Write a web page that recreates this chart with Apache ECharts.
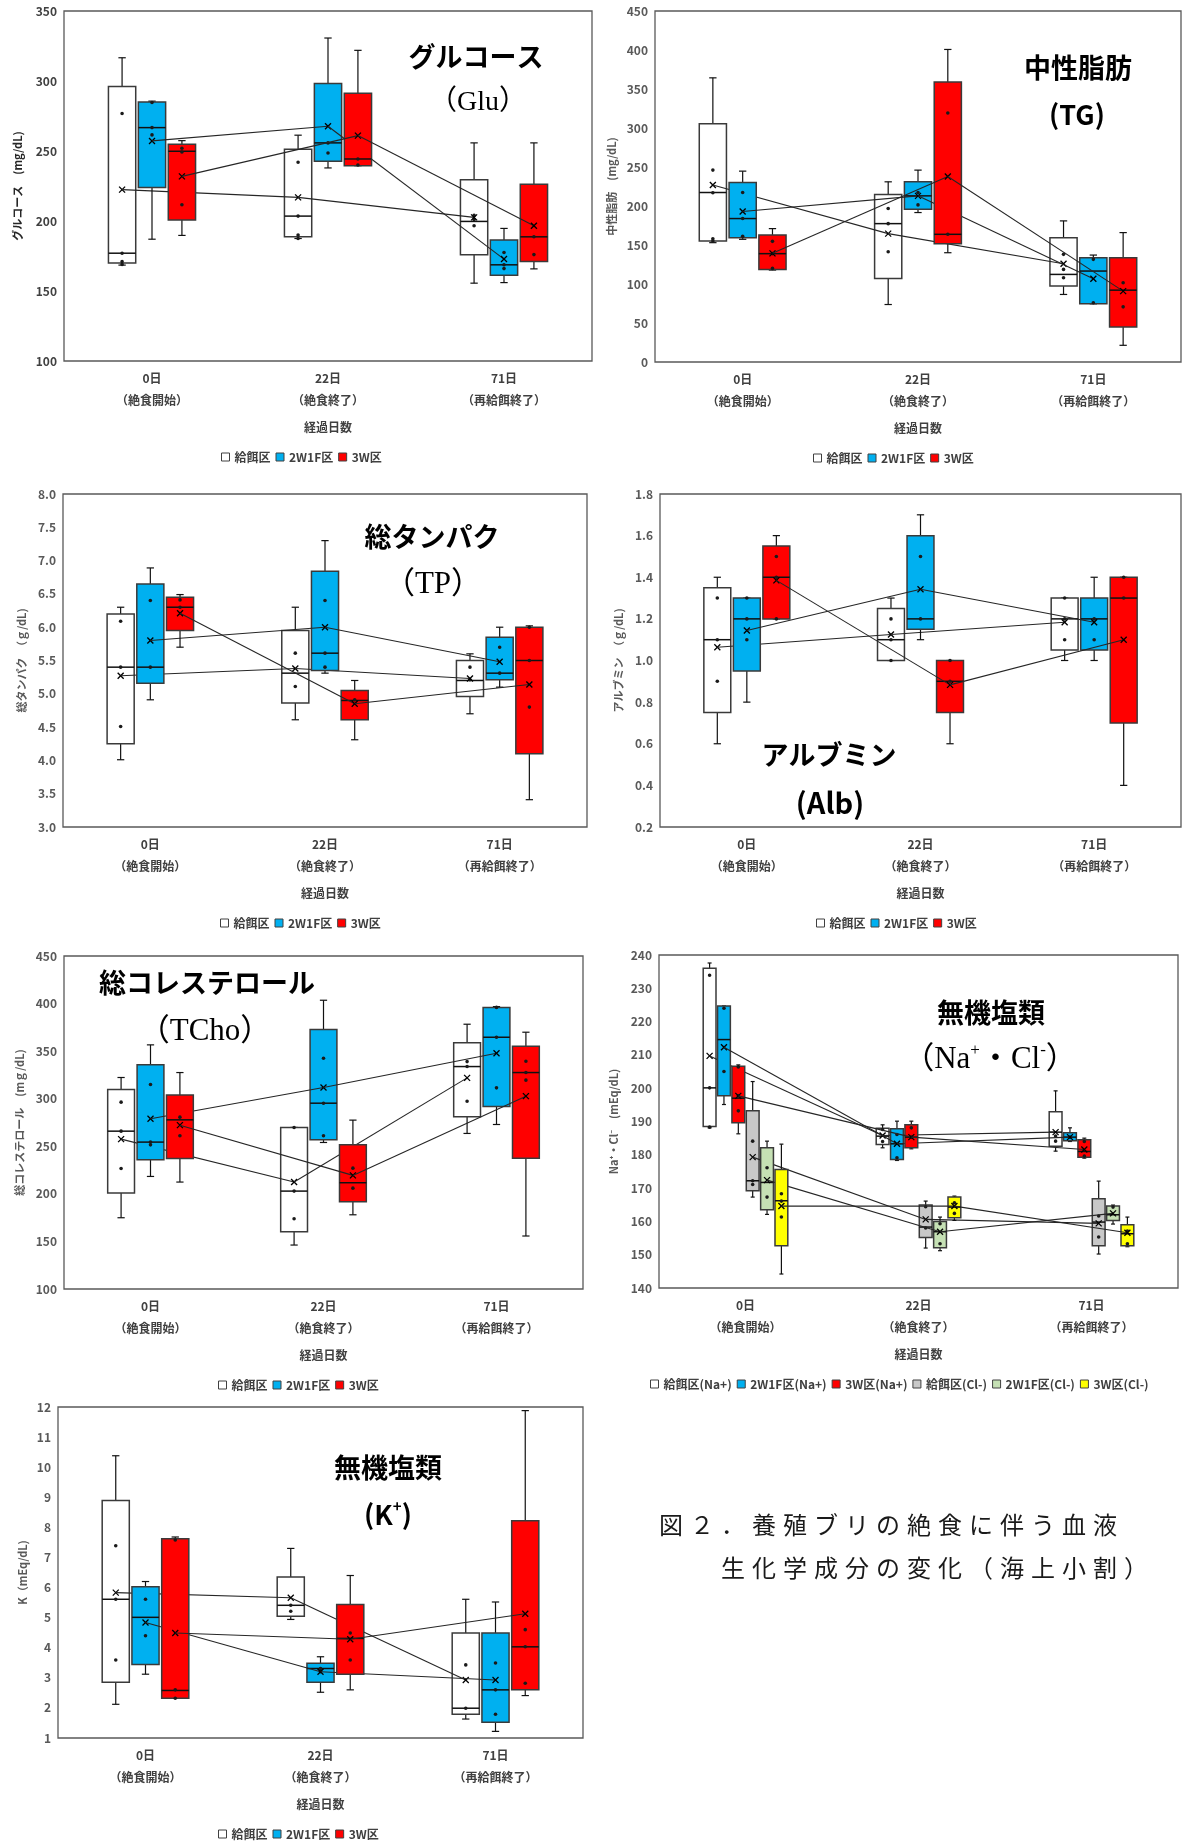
<!DOCTYPE html>
<html><head><meta charset="utf-8">
<script src="https://cdn.jsdelivr.net/npm/echarts@6/dist/echarts.min.js"></script>
<style>html,body{margin:0;padding:0;background:#fff}#c{width:1182px;height:1843px}</style>
</head><body><div id="c"></div>
<script>
// ---------- DATA ----------
const days = ['0日', '22日', '71日'];
const daySub = ['（絶食開始）', '（絶食終了）', '（再給餌終了）'];
const groups3 = ['給餌区', '2W1F区', '3W区'];
const groupsNaCl = ['給餌区(Na+)', '2W1F区(Na+)', '3W区(Na+)', '給餌区(Cl-)', '2W1F区(Cl-)', '3W区(Cl-)'];

// box = [min, Q1, median, Q3, max] per day, per group (給餌区, 2W1F区, 3W区)
const gluBox = [
  [[168.5,170,177,296,316.6],[187.5,188.7,203.5,251.2,261.3],[155.6,175.9,199.7,229.5,255.8]],
  [[187,224,266.7,285,285.6],[237.9,242.7,255.8,298.2,330.7],[156,161.3,168.7,186.4,194.7]],
  [[189.7,200.7,249.8,254.8,257.4],[239.5,239.5,244.3,291.3,321.9],[165.8,171,188.7,226.2,255.8]]
];
const gluMean = [[222.4,216.9,202.6],[257.2,267.7,172.8],[231.9,261,196.6]];
const gluDots = [
  [[276.8,177,171,169],[242,203.5,190,187.5],[204,201,196.6]],
  [[284.6,266.7,261.5],[255.8,248.6],[177.5,168.7,166]],
  [[252,249.3,211.6],[244.3,240],[188.7,176]]
];
const gluAxis = [100, 350, 50];

const tgBox = [
  [[153,155.1,217.3,305.6,364.3],[73.7,107.1,177.4,214.7,231],[86.6,97.3,112.3,159.4,180.9]],
  [[157.3,159.4,183.9,230.1,244.7],[191.6,195.9,213,231,246],[74.6,74.6,116.6,133.7,137.1]],
  [[117.9,118.7,138.9,162.9,171],[140.1,151.7,163.7,359.1,400.7],[21.4,45,92.1,133.7,165.9]]
];
const tgMean = [[227,164.6,126],[192.9,213,106.7],[139.3,237.9,90.9]];
const tgDots = [
  [[246,217,158,155],[196.7,177.4,141.4],[138,118.7,108]],
  [[217.3,183.9,161.1],[217.3,201.4],[131.6,75.9]],
  [[154.7,139,120],[319.3,163.7],[101.6,70.7]]
];
const tgAxis = [0, 450, 50];

const tpBox = [
  [[4.01,4.25,5.40,6.20,6.30],[4.61,4.86,5.31,5.95,6.30],[4.70,4.96,5.20,5.50,5.60]],
  [[4.91,5.16,5.40,6.65,6.89],[5.31,5.35,5.61,6.84,7.30],[5.10,5.21,5.31,5.85,6.00]],
  [[5.70,5.95,6.30,6.45,6.49],[4.31,4.61,4.90,5.05,5.20],[3.41,4.10,5.50,6.00,6.02]]
];
const tpMean = [[5.27,5.38,5.23],[5.80,6.00,5.48],[6.21,4.85,5.14]];
const tpDots = [
  [[6.09,5.40,4.51],[5.61,5.11],[5.40,5.21]],
  [[6.40,5.40],[6.40,5.61,5.40],[5.70,5.31]],
  [[6.41,6.30],[4.91],[6.00,5.50,4.80]]
];
const tpAxis = [3, 8, 0.5];

const albBox = [
  [[0.60,0.75,1.10,1.35,1.40],[1.00,1.00,1.10,1.25,1.30],[1.00,1.05,1.20,1.30,1.30]],
  [[0.80,0.95,1.20,1.30,1.30],[1.10,1.15,1.20,1.60,1.70],[1.00,1.05,1.20,1.30,1.40]],
  [[1.20,1.20,1.40,1.55,1.60],[0.60,0.75,0.90,1.00,1.00],[0.40,0.70,1.30,1.40,1.40]]
];
const albMean = [[1.064,1.125,1.184],[1.144,1.342,1.184],[1.385,0.883,1.10]];
const albDots = [
  [[1.30,1.10,0.90],[1.20,1.10,1.00],[1.30,1.20,1.10]],
  [[1.30,1.20,1.10],[1.50,1.20],[1.20,1.10]],
  [[1.50,1.40,1.20],[1.00,0.90],[1.40,1.30]]
];
const albAxis = [0.2, 1.8, 0.2];

const tchoBox = [
  [[174.9,200.8,265.9,309.7,322.3],[146.2,160.2,202.9,269.8,269.8],[263.5,281,333.8,358.7,378.3]],
  [[218.3,235.8,254.4,335.6,356.6],[254,256.8,295.3,372.7,403.5],[272.9,291.8,364.6,396,396.8]],
  [[212.4,237.2,277.8,304,327.5],[178,191.7,211.7,251.6,277.5],[155.7,237.5,327.5,355.2,369.9]]
];
const tchoMean = [[257.5,212.4,321.9],[278.9,311.8,347.8],[272.2,219.4,302.7]];
const tchoDots = [
  [[296.4,265.9,226.7],[269.8,202.9,173.9],[339,333.8,297.4]],
  [[314.9,254.4,251.5],[342.6,295.3,261],[396,364.6,311.4]],
  [[280.6,261],[227,206],[339.4,327.5,319.5]]
];
const tchoAxis = [100, 450, 50];

const naclBox = [
  [[188.1,188.5,200.1,236,237.6],[182.1,183.1,185.6,188,189],[181.1,182.6,186.8,192.9,199.2]],
  [[195.1,197.7,214.6,224.7,224.7],[178.3,178.6,183.3,187.8,190.1],[184,184.2,185.3,186.6,188.1]],
  [[186.3,189.6,197,206.6,207],[181.8,182.1,185.3,189,190.1],[179,179.3,181,184.5,185]],
  [[167.3,169.2,172.2,193.2,202],[152,155.2,158.3,164.9,166.1],[150.2,152.7,159.8,166.8,172.1]],
  [[162.1,163.5,171.7,182.1,184.1],[151.2,152.1,156.9,160,161.3],[159.2,160.3,162,164.6,164.9]],
  [[144.2,152.7,166.2,175.6,183.2],[160.3,161.1,164.3,167.3,167.6],[152.4,152.7,156.3,159,161.3]]
];
const naclMean = [[209.7,185.8,186.8],[212.3,183.3,185.3],[197.7,185.3,181.6],[179.3,160.6,159.4],[172.4,156.9,162.4],[164.6,164.6,156.6]];
const naclDots = [
  [[233.9,200.1,188.3],[187.6,184],[185.6,184.1]],
  [[224,205],[186.1,179.1],[185.3]],
  [[206.4,197.7,193.2],[188.1,185.3],[184,179.6]],
  [[184.1,172.2,171.1],[164.4,158],[161.6,155.3]],
  [[176.1,167.3],[159.3,153.3],[164.3]],
  [[168.3,166.1,161.3],[165.6,162.4],[157.1,153.3]]
];
const naclAxis = [140, 240, 10];

const kBox = [
  [[2.12,2.85,5.61,8.89,10.38],[4.94,5.05,5.41,6.35,7.30],[1.63,1.79,1.99,4.49,5.61]],
  [[3.12,3.44,5.01,6.03,6.20],[2.52,2.85,3.31,3.48,3.70],[1.22,1.52,2.60,4.49,5.52]],
  [[2.32,2.32,2.58,7.62,7.68],[2.60,3.12,4.31,5.44,6.40],[2.41,2.60,4.03,8.22,11.88]]
];
const kMean = [[5.83,5.66,2.93],[4.84,3.20,2.93],[4.49,4.28,5.13]];
const kDots = [
  [[7.39,5.61,3.59],[5.41,5.21],[3.43,1.99]],
  [[5.61,4.40],[3.31,3.20],[3.49,2.60,1.79]],
  [[7.58,2.60,2.32],[4.49,3.59],[4.60,4.03,2.82]]
];
const kAxis = [1, 12, 1];

const captionLines = ['図２．養殖ブリの絶食に伴う血液', '　　生化学成分の変化（海上小割）'];

// ---------- STYLE / LAYOUT ----------
const FONT = "'Noto Sans CJK JP', 'Noto Sans', sans-serif";
const SERIF = "'Liberation Serif', 'Noto Sans CJK JP', serif";
const colors3 = ['#FFFFFF', '#00B0F0', '#FF0000'];
const colorsNaCl = ['#FFFFFF', '#00B0F0', '#FF0000', '#C8C8C8', '#C5E0B4', '#FFFF00'];

const panels = [
  {box: gluBox, mean: gluMean, dots: gluDots, axis: gluAxis, dec: 0, names: groups3, colors: colors3,
   grid: {left: 64, top: 11, width: 528, height: 350}, yName: 'グルコース　(mg/dL)', yNameGap: 41, yNameColor: '#262626',
   labelColor: '#404040', legendLeft: 221, step: 0.17, wf: 0.155},
  {box: tgBox, mean: tgMean, dots: tgDots, axis: tgAxis, dec: 0, names: groups3, colors: colors3,
   grid: {left: 655, top: 11, width: 526, height: 351}, yName: '中性脂肪　(mg/dL)', yNameGap: 38, yNameColor: '#595959',
   labelColor: '#595959', legendLeft: 813, step: 0.17, wf: 0.155},
  {box: tpBox, mean: tpMean, dots: tpDots, axis: tpAxis, dec: 1, names: groups3, colors: colors3,
   grid: {left: 63, top: 494, width: 524, height: 333}, yName: '総タンパク　（ｇ/dL)', yNameGap: 36, yNameColor: '#595959',
   labelColor: '#595959', legendLeft: 220, step: 0.17, wf: 0.155},
  {box: albBox, mean: albMean, dots: albDots, axis: albAxis, dec: 1, names: groups3, colors: colors3,
   grid: {left: 660, top: 494, width: 521, height: 333}, yName: 'アルブミン　（ｇ/dL)', yNameGap: 36, yNameColor: '#595959',
   labelColor: '#595959', legendLeft: 816, step: 0.17, wf: 0.155},
  {box: tchoBox, mean: tchoMean, dots: tchoDots, axis: tchoAxis, dec: 0, names: groups3, colors: colors3,
   grid: {left: 64, top: 956, width: 519, height: 333}, yName: '総コレステロール　(mｇ/dL)', yNameGap: 39, yNameColor: '#595959',
   labelColor: '#595959', legendLeft: 218, step: 0.17, wf: 0.155},
  {box: naclBox, mean: naclMean, dots: naclDots, axis: naclAxis, dec: 0, names: groupsNaCl, colors: colorsNaCl,
   grid: {left: 659, top: 955, width: 519, height: 333}, yName: 'Na⁺・Cl⁻　(mEq/dL)', yNameGap: 40, yNameColor: '#595959',
   labelColor: '#595959', legendLeft: 650, step: 0.083, wf: 0.074},
  {box: kBox, mean: kMean, dots: kDots, axis: kAxis, dec: 0, names: groups3, colors: colors3,
   grid: {left: 58, top: 1407, width: 525, height: 331}, yName: 'K（mEq/dL)', yNameGap: 30, yNameColor: '#595959',
   labelColor: '#595959', legendLeft: 218, step: 0.17, wf: 0.155}
];

function boxRender(off, wf, fill) {
  return function (params, api) {
    const cat = api.value(0);
    const band = api.size([1, 0])[0];
    const cx = api.coord([cat, api.value(3)])[0] + off * band;
    const w = wf * band;
    const yMin = api.coord([cat, api.value(1)])[1];
    const yQ1 = api.coord([cat, api.value(2)])[1];
    const yMed = api.coord([cat, api.value(3)])[1];
    const yQ3 = api.coord([cat, api.value(4)])[1];
    const yMax = api.coord([cat, api.value(5)])[1];
    const cap = Math.max(4, w * 0.27);
    const ws = {stroke: '#111', lineWidth: 1.2};
    return {type: 'group', children: [
      {type: 'line', shape: {x1: cx, y1: yMax, x2: cx, y2: yQ3}, style: ws},
      {type: 'line', shape: {x1: cx, y1: yQ1, x2: cx, y2: yMin}, style: ws},
      {type: 'line', shape: {x1: cx - cap / 2, y1: yMax, x2: cx + cap / 2, y2: yMax}, style: ws},
      {type: 'line', shape: {x1: cx - cap / 2, y1: yMin, x2: cx + cap / 2, y2: yMin}, style: ws},
      {type: 'rect', shape: {x: cx - w / 2, y: yQ3, width: w, height: yQ1 - yQ3}, style: {fill: fill, stroke: '#3a3a3a', lineWidth: 1.5}},
      {type: 'line', shape: {x1: cx - w / 2, y1: yMed, x2: cx + w / 2, y2: yMed}, style: {stroke: '#111', lineWidth: 1.5}}
    ]};
  };
}
function dotRender(off) {
  return function (params, api) {
    const band = api.size([1, 0])[0];
    const pt = api.coord([api.value(0), api.value(1)]);
    return {type: 'circle', shape: {cx: pt[0] + off * band, cy: pt[1], r: 1.8}, style: {fill: '#1a1a1a'}};
  };
}
function meanRender(off, arr) {
  return function (params, api) {
    const i = api.value(0);
    const band = api.size([1, 0])[0];
    const pt = api.coord([i, api.value(1)]);
    const x = pt[0] + off * band, y = pt[1], s = 3;
    const st = {stroke: '#000', lineWidth: 1.3};
    const children = [
      {type: 'line', shape: {x1: x - s, y1: y - s, x2: x + s, y2: y + s}, style: st},
      {type: 'line', shape: {x1: x - s, y1: y + s, x2: x + s, y2: y - s}, style: st}
    ];
    if (i < arr.length - 1) {
      const q = api.coord([i + 1, arr[i + 1]]);
      children.push({type: 'line', shape: {x1: x, y1: y, x2: q[0] + off * band, y2: q[1]}, style: {stroke: '#262626', lineWidth: 1.1}});
    }
    return {type: 'group', children: children};
  };
}

const grids = [], xAxes = [], yAxes = [], legends = [], series = [];
panels.forEach(function (p, pi) {
  grids.push(Object.assign({show: true, borderColor: '#595959', borderWidth: 1.3, backgroundColor: 'transparent'}, p.grid));
  xAxes.push({
    type: 'category', gridIndex: pi, data: days,
    axisLine: {show: false}, axisTick: {show: false}, splitLine: {show: false},
    axisLabel: {
      margin: 6, interval: 0,
      formatter: function (v, i) { return '{a|' + v + '}\n{b|' + daySub[i] + '}'; },
      rich: {
        a: {fontSize: 12, fontWeight: 'bold', color: '#404040', lineHeight: 22, fontFamily: FONT},
        b: {fontSize: 12, fontWeight: 'bold', color: '#404040', lineHeight: 22, fontFamily: FONT}
      }
    },
    name: '経過日数', nameLocation: 'middle', nameGap: 60,
    nameTextStyle: {fontSize: 12, fontWeight: 'bold', color: '#404040', fontFamily: FONT}
  });
  yAxes.push({
    type: 'value', gridIndex: pi, min: p.axis[0], max: p.axis[1], interval: p.axis[2],
    axisLine: {show: false}, axisTick: {show: false}, splitLine: {show: false},
    axisLabel: {margin: 7, fontSize: 12, fontWeight: 'bold', color: p.labelColor, fontFamily: FONT,
      formatter: function (v) { return v.toFixed(p.dec); }},
    name: p.yName, nameLocation: 'middle', nameRotate: 90, nameGap: p.yNameGap,
    nameTextStyle: {fontSize: 11, fontWeight: 'bold', color: p.yNameColor, fontFamily: FONT}
  });
  const n = p.names.length;
  p.names.forEach(function (name, g) {
    const off = (g - (n - 1) / 2) * p.step;
    series.push({
      type: 'custom', name: name, xAxisIndex: pi, yAxisIndex: pi, silent: true, animation: false,
      itemStyle: {color: p.colors[g]},
      renderItem: boxRender(off, p.wf, p.colors[g]),
      encode: {x: 0, y: [1, 2, 3, 4, 5]},
      data: days.map(function (d, i) { return [i].concat(p.box[g][i]); })
    });
    const dd = [];
    days.forEach(function (d, i) { p.dots[g][i].forEach(function (v) { dd.push([i, v]); }); });
    series.push({
      type: 'custom', name: name + '・個体', xAxisIndex: pi, yAxisIndex: pi, silent: true, animation: false,
      itemStyle: {color: '#1a1a1a'}, renderItem: dotRender(off), encode: {x: 0, y: 1}, data: dd
    });
    series.push({
      type: 'custom', name: name + '・平均', xAxisIndex: pi, yAxisIndex: pi, silent: true, animation: false,
      itemStyle: {color: '#000'}, renderItem: meanRender(off, p.mean[g]), encode: {x: 0, y: 1},
      data: days.map(function (d, i) { return [i, p.mean[g][i]]; })
    });
  });
  legends.push({
    data: p.names, left: p.legendLeft, top: p.grid.top + p.grid.height + 90, padding: 0,
    icon: 'rect', itemWidth: 8, itemHeight: 8, itemGap: 5, selectedMode: false,
    itemStyle: {borderColor: '#404040', borderWidth: 1},
    textStyle: {fontSize: 12, fontWeight: 'bold', color: '#404040', fontFamily: FONT}
  });
});

function bigTitle(text, x, y) {
  return {type: 'text', x: x, y: y, silent: true, style: {text: text, align: 'center', verticalAlign: 'middle',
    font: 'bold 27px ' + FONT, fill: '#000'}};
}
function subTitle(text, x, y, fam, weight, size) {
  return {type: 'text', x: x, y: y, silent: true, style: {text: text, align: 'center', verticalAlign: 'middle',
    font: (weight || 'normal') + ' ' + (size || 27) + 'px ' + fam, fill: '#000'}};
}
const graphics = [
  bigTitle('グルコース', 476, 57), subTitle('（Glu）', 478, 103, SERIF, 'normal', 28),
  bigTitle('中性脂肪', 1078, 68), subTitle('(TG)', 1077, 115, FONT, 'bold', 27),
  bigTitle('総タンパク', 432, 537), subTitle('（TP）', 433, 585, SERIF, 'normal', 31),
  bigTitle('アルブミン', 829, 755), subTitle('(Alb)', 830, 803, FONT, 'bold', 29),
  bigTitle('総コレステロール', 207, 983), subTitle('（TCho）', 205, 1032, SERIF, 'normal', 31),
  bigTitle('無機塩類', 991, 1013),
  {type: 'text', x: 990, y: 1060, silent: true, style: {
    text: '{n|（Na}{s|+}{n|・Cl}{s|-}{n|）}', align: 'center', verticalAlign: 'middle',
    rich: {n: {fontSize: 31, fontFamily: SERIF, fill: '#000', lineHeight: 36},
           s: {fontSize: 17, fontFamily: SERIF, fill: '#000', lineHeight: 36, verticalAlign: 'top'}}}},
  bigTitle('無機塩類', 388, 1468),
  {type: 'text', x: 388, y: 1515, silent: true, style: {
    text: '{n|(K}{s|+}{n|)}', align: 'center', verticalAlign: 'middle',
    rich: {n: {fontSize: 27, fontFamily: FONT, fontWeight: 'bold', fill: '#000', lineHeight: 32},
           s: {fontSize: 15, fontFamily: FONT, fontWeight: 'bold', fill: '#000', lineHeight: 32, verticalAlign: 'top'}}}}
];
captionLines.forEach(function (line, li) {
  Array.from(line).forEach(function (ch, ci) {
    graphics.push({type: 'text', x: 659 + ci * 31, y: 1525 + li * 43, silent: true,
      style: {text: ch, align: 'left', verticalAlign: 'middle', font: 'normal 24px ' + FONT, fill: '#1a1a1a'}});
  });
});

const chart = echarts.init(document.getElementById('c'), null, {renderer: 'canvas'});
chart.setOption({
  animation: false,
  backgroundColor: '#ffffff',
  grid: grids, xAxis: xAxes, yAxis: yAxes, legend: legends, series: series,
  graphic: {elements: graphics}
});
</script></body></html>
